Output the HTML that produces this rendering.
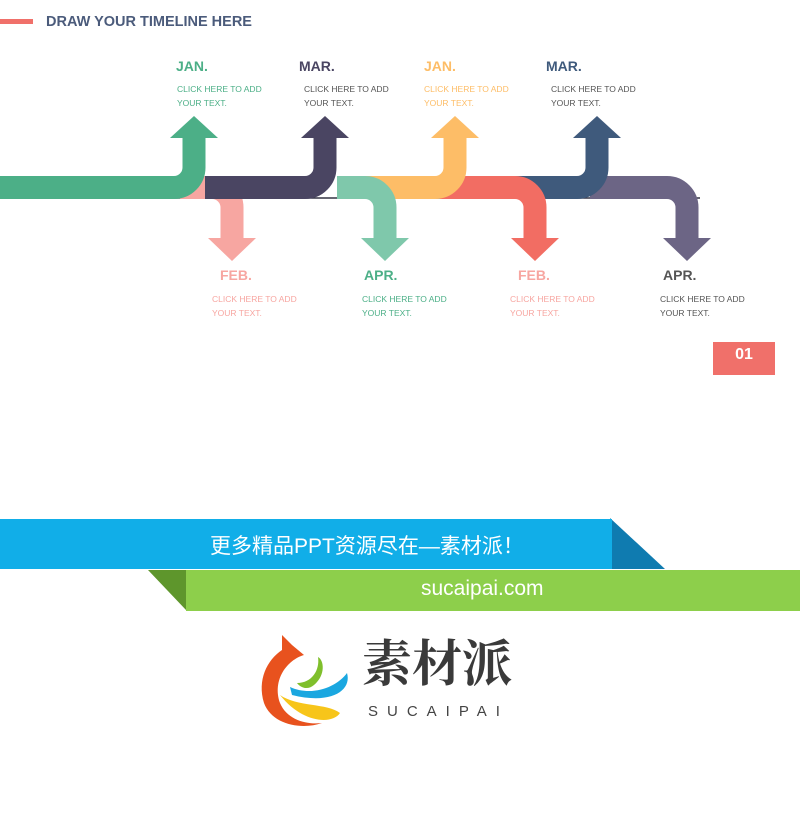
<!DOCTYPE html>
<html><head><meta charset="utf-8"><style>
body{margin:0;width:800px;height:826px;background:#fff;position:relative;overflow:hidden;font-family:"Liberation Sans","Noto Sans CJK SC",sans-serif}
.t{position:absolute;font-weight:bold;font-size:14px}
.s{position:absolute;font-size:8.5px;line-height:14px}
</style></head><body>
<div style="position:absolute;left:0;top:19px;width:33px;height:5px;background:#f0706a"></div>
<div class="t" style="left:46px;top:14px;font-size:14.5px;color:#4b5b7b">DRAW YOUR TIMELINE HERE</div>

<svg width="800" height="300" style="position:absolute;left:0;top:0" fill="none">
<line x1="0" y1="198" x2="700" y2="198" stroke="#334" stroke-width="1.5"/>
<path d="M590 187.5H667a20 20 0 0 1 20 20V240" stroke="#6c6585" stroke-width="23"/><polygon points="663,238 711,238 687,261" fill="#6c6585"/>
<path d="M515 187.5H577a20 20 0 0 0 20-20V135" stroke="#3f5a7c" stroke-width="23"/><polygon points="573,138 621,138 597,116" fill="#3f5a7c"/>
<path d="M440 187.5H515a20 20 0 0 1 20 20V240" stroke="#f26d63" stroke-width="23"/><polygon points="511,238 559,238 535,261" fill="#f26d63"/>
<path d="M180 187.5H212a20 20 0 0 1 20 20V240" stroke="#f7a6a1" stroke-width="23"/><polygon points="208,238 256,238 232,261" fill="#f7a6a1"/>
<path d="M0 187.5H174a20 20 0 0 0 20-20V135" stroke="#4caf87" stroke-width="23"/><polygon points="170,138 218,138 194,116" fill="#4caf87"/>
<path d="M205 187.5H305a20 20 0 0 0 20-20V135" stroke="#4a4562" stroke-width="23"/><polygon points="301,138 349,138 325,116" fill="#4a4562"/>
<path d="M365 187.5H435a20 20 0 0 0 20-20V135" stroke="#fdbd67" stroke-width="23"/><polygon points="431,138 479,138 455,116" fill="#fdbd67"/>
<path d="M337 187.5H365a20 20 0 0 1 20 20V240" stroke="#7fc8ab" stroke-width="23"/><polygon points="361,238 409,238 385,261" fill="#7fc8ab"/>
</svg>

<div class="t" style="left:176px;top:58px;color:#4caf87">JAN.</div>
<div class="s" style="left:177px;top:82px;color:#4caf87">CLICK HERE TO ADD<br>YOUR TEXT.</div>
<div class="t" style="left:299px;top:58px;color:#4a4562">MAR.</div>
<div class="s" style="left:304px;top:82px;color:#555">CLICK HERE TO ADD<br>YOUR TEXT.</div>
<div class="t" style="left:424px;top:58px;color:#fdbd67">JAN.</div>
<div class="s" style="left:424px;top:82px;color:#fdbd67">CLICK HERE TO ADD<br>YOUR TEXT.</div>
<div class="t" style="left:546px;top:58px;color:#3f5a7c">MAR.</div>
<div class="s" style="left:551px;top:82px;color:#555">CLICK HERE TO ADD<br>YOUR TEXT.</div>

<div class="t" style="left:220px;top:267px;color:#f7a6a1">FEB.</div>
<div class="s" style="left:212px;top:292px;color:#f7a6a1">CLICK HERE TO ADD<br>YOUR TEXT.</div>
<div class="t" style="left:364px;top:267px;color:#4caf87">APR.</div>
<div class="s" style="left:362px;top:292px;color:#4caf87">CLICK HERE TO ADD<br>YOUR TEXT.</div>
<div class="t" style="left:518px;top:267px;color:#f7a6a1">FEB.</div>
<div class="s" style="left:510px;top:292px;color:#f7a6a1">CLICK HERE TO ADD<br>YOUR TEXT.</div>
<div class="t" style="left:663px;top:267px;color:#555">APR.</div>
<div class="s" style="left:660px;top:292px;color:#555">CLICK HERE TO ADD<br>YOUR TEXT.</div>

<div style="position:absolute;left:713px;top:342px;width:62px;height:33px;background:#f0706a;color:#fff;font-weight:bold;font-size:16px;text-align:center;line-height:26px">01</div>

<svg width="800" height="100" style="position:absolute;left:0;top:518px">
<polygon points="610,0 665,51 612,51" fill="#0f7bb0"/>
<rect x="0" y="1" width="612" height="50" fill="#11aee8"/>
<polygon points="148,52 186,52 186,92" fill="#5e962c"/>
<rect x="186" y="52" width="614" height="41" fill="#8dcf4b"/>
</svg>
<div style="position:absolute;left:210px;top:530px;color:#fff;font-size:21px">更多精品PPT资源尽在—素材派！</div>
<div style="position:absolute;left:421px;top:577px;color:#fff;font-size:21px">sucaipai.com</div>

<svg width="110" height="110" style="position:absolute;left:252px;top:625px">
<path d="M30 10 L40 20 L52 30 C35 35 20 55 28 78 C35 95 55 100 70 98 C50 105 20 100 12 78 C5 55 15 35 30 25 Z" fill="#e8521e"/>
<path d="M28 70 C45 82 75 78 88 88 C80 100 50 98 28 70Z" fill="#f7c51a"/>
<path d="M38 62 C60 72 85 62 95 48 C100 65 80 80 40 70Z" fill="#1aa7e0"/>
<path d="M45 58 C60 58 68 45 66 32 C72 35 74 50 62 60 C55 66 48 62 45 58Z" fill="#7fbf2c"/>
</svg>
<div style="position:absolute;left:362px;top:630px;font-size:50px;font-weight:bold;color:#3a3a3a;font-family:'Noto Serif CJK SC','Noto Sans CJK SC',serif;line-height:60px">素材派</div>
<div style="position:absolute;left:368px;top:703px;font-size:15px;color:#444;letter-spacing:9px">SUCAIPAI</div>
</body></html>
